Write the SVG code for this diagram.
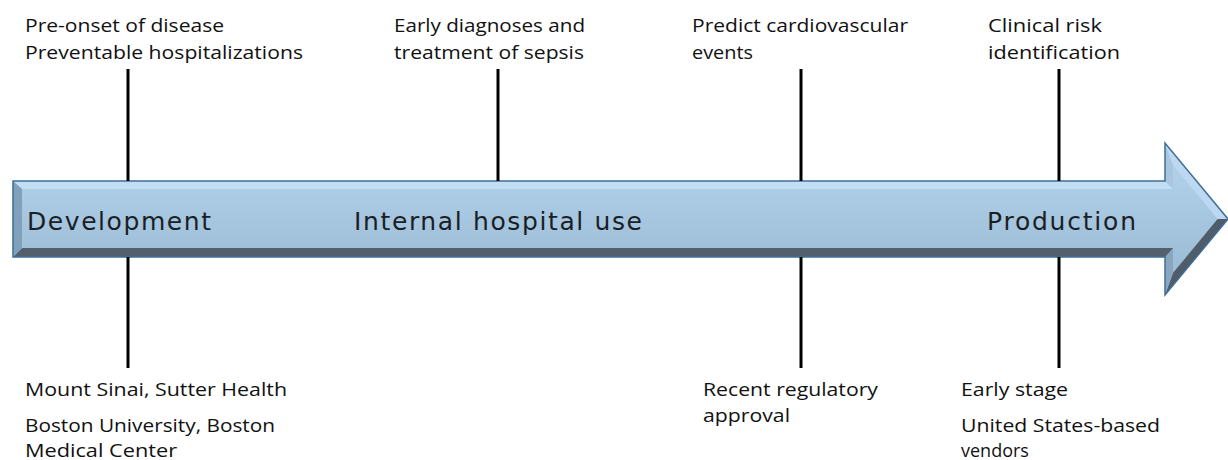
<svg xmlns="http://www.w3.org/2000/svg" width="1228" height="460" viewBox="0 0 1228 460">
<defs>
<linearGradient id="body" x1="0" y1="0" x2="0" y2="1">
<stop offset="0" stop-color="#b6d6f0"/>
<stop offset="1" stop-color="#97b6d0"/>
</linearGradient>
<style>
.lbl{font-family:"Open Sans","DejaVu Sans",sans-serif;font-size:18px;fill:#111;}
.big{font-family:"DejaVu Sans","Liberation Sans",sans-serif;font-size:25px;fill:#1a1f26;}
.tick{stroke:#000;stroke-width:3;fill:none;}
</style>
</defs>
<rect width="1228" height="460" fill="#fff"/>
<g id="arrow">
<polygon points="13,181 1165,181 1165,143 1228,219 1165,295 1165,257 13,257" fill="url(#body)"/>
<polygon points="13,181 1165,181 1173,189 22,189" fill="#c2def5"/>
<polygon points="1165,181 1165,143 1173,165 1173,189" fill="#a9c6de"/>
<polygon points="1165,143 1228,219 1217.6,219 1173,165" fill="#bcd9f1"/>
<polygon points="1228,219 1165,295 1173,273 1217.6,219" fill="#4f5c69"/>
<polygon points="1165,295 1165,257 1173,248 1173,273" fill="#8aa6bf"/>
<polygon points="13,257 1165,257 1173,248 22,248" fill="#525f6c"/>
<polygon points="13,181 22,189 22,248 13,257" fill="#82a0bb"/>
<polygon points="13,181 1165,181 1165,143 1228,219 1165,295 1165,257 13,257" fill="none" stroke="#3f6e98" stroke-width="1.5" stroke-linejoin="miter"/>
<text class="big" x="27" y="230" textLength="184" lengthAdjust="spacing">Development</text>
<text class="big" x="354" y="230" textLength="288" lengthAdjust="spacing">Internal hospital use</text>
<text class="big" x="987" y="230" textLength="149" lengthAdjust="spacing">Production</text>
</g>
<g id="connectors">
<line class="tick" x1="128" y1="69" x2="128" y2="181"/>
<line class="tick" x1="498" y1="69" x2="498" y2="181"/>
<line class="tick" x1="801" y1="69" x2="801" y2="181"/>
<line class="tick" x1="1059" y1="69" x2="1059" y2="181"/>
<line class="tick" x1="128" y1="257" x2="128" y2="368"/>
<line class="tick" x1="801" y1="257" x2="801" y2="368"/>
<line class="tick" x1="1059" y1="257" x2="1059" y2="368"/>
</g>
<g id="node-development-top">
<text class="lbl" x="25" y="32" textLength="199" lengthAdjust="spacingAndGlyphs">Pre-onset of disease</text>
<text class="lbl" x="25" y="59" textLength="278" lengthAdjust="spacingAndGlyphs">Preventable hospitalizations</text>
</g>
<g id="node-sepsis-top">
<text class="lbl" x="394" y="32" textLength="191" lengthAdjust="spacingAndGlyphs">Early diagnoses and</text>
<text class="lbl" x="394" y="59" textLength="190" lengthAdjust="spacingAndGlyphs">treatment of sepsis</text>
</g>
<g id="node-cardio-top">
<text class="lbl" x="692" y="32" textLength="216" lengthAdjust="spacingAndGlyphs">Predict cardiovascular</text>
<text class="lbl" x="692" y="59" textLength="61" lengthAdjust="spacingAndGlyphs">events</text>
</g>
<g id="node-clinical-top">
<text class="lbl" x="988" y="32" textLength="114" lengthAdjust="spacingAndGlyphs">Clinical risk</text>
<text class="lbl" x="988" y="59" textLength="132" lengthAdjust="spacingAndGlyphs">identification</text>
</g>
<g id="node-development-bottom">
<text class="lbl" x="25" y="396" textLength="262" lengthAdjust="spacingAndGlyphs">Mount Sinai, Sutter Health</text>
<text class="lbl" x="25" y="432" textLength="250" lengthAdjust="spacingAndGlyphs">Boston University, Boston</text>
<text class="lbl" x="25" y="457" textLength="152" lengthAdjust="spacingAndGlyphs">Medical Center</text>
</g>
<g id="node-regulatory-bottom">
<text class="lbl" x="703" y="396" textLength="175" lengthAdjust="spacingAndGlyphs">Recent regulatory</text>
<text class="lbl" x="703" y="422" textLength="87" lengthAdjust="spacingAndGlyphs">approval</text>
</g>
<g id="node-production-bottom">
<text class="lbl" x="961" y="396" textLength="107" lengthAdjust="spacingAndGlyphs">Early stage</text>
<text class="lbl" x="961" y="432" textLength="199" lengthAdjust="spacingAndGlyphs">United States-based</text>
<text class="lbl" x="961" y="457">vendors</text>
</g>
</svg>
